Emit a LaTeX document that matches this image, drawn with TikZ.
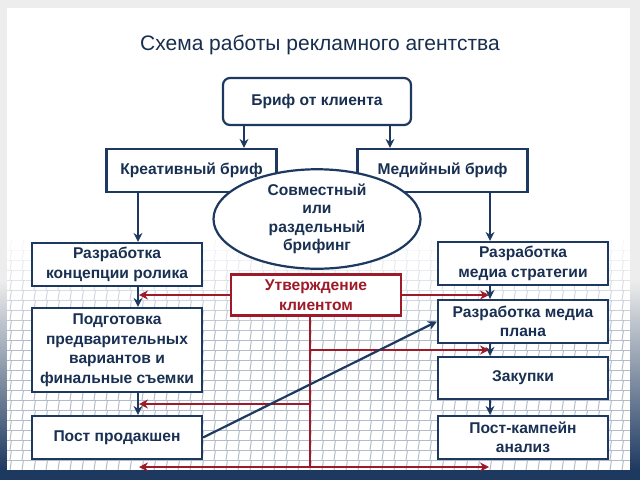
\documentclass[tikz,border=0pt]{standalone}
\usepackage{fontspec}
\setmainfont{Liberation Sans}
\usetikzlibrary{shapes.geometric,arrows.meta,calc}
\definecolor{navy}{RGB}{30,57,96}
\definecolor{darkred}{RGB}{158,26,40}
\definecolor{gridc}{RGB}{180,188,201}
\begin{document}
\begin{tikzpicture}[x=1pt,y=-1pt,
    box/.style={draw=navy,line width=2.2pt,fill=white,minimum width=170pt,minimum height=43pt,
      align=center,inner sep=2pt,text=navy!85!black,font=\bfseries\fontsize{15.6}{19.5}\selectfont},
    redbox/.style={box,draw=darkred,text=darkred,minimum height=41pt},
    arr/.style={navy,line width=2.2pt,-{Stealth[length=9pt,width=9pt]}},
    redarr/.style={darkred,line width=2pt,-{Stealth[length=9pt,width=9pt]}},
    redline/.style={darkred,line width=2pt}]

    % slide background
    \fill[gray!14] (0,0) rectangle (640,480);
    \shade[top color=gray!14,bottom color=navy] (0,280) rectangle (7,470);
    \shade[top color=gray!14,bottom color=navy] (630,280) rectangle (640,470);
    \fill[white] (7,8) rectangle (630,470);
    \foreach \y in {250,260,...,470}{
      \pgfmathtruncatemacro\pct{min(100,\y-240)}
      \draw[gridc!\pct!white,line width=1pt] (7,\y) -- (630,\y);
      \foreach \x in {10,22,...,628}
        \draw[gridc!\pct!white,line width=1pt] (\x,\y) -- (\x+1.5,\y-10);
    }
    \fill[navy] (0,470) rectangle (640,480);

    % title
    \node[text=navy!80!black,font=\fontsize{21}{24}\selectfont] (title) at (320,45) {Схема работы рекламного агентства};

    % nodes
    \node[box,rounded corners=7pt,minimum width=188pt,minimum height=47pt] (brief) at (317,101.5) {Бриф от клиента};
    \node[box] (creative) at (191.5,170.5) {Креативный бриф};
    \node[box] (media) at (442.5,170.5) {Медийный бриф};
    \node[box,ellipse,minimum width=207pt,minimum height=81pt,inner sep=0pt,
      font=\bfseries\fontsize{15.6}{18.5}\selectfont] (joint) at (317,219) {Совместный\\или\\раздельный\\брифинг};
    \node[box] (concept) at (117,264.5) {Разработка\\концепции ролика};
    \node[box] (strategy) at (523,263.5) {Разработка\\медиа стратегии};
    \node[redbox] (approve) at (316,295) {Утверждение\\клиентом};
    \node[box,minimum height=84pt] (prep) at (117,350) {Подготовка\\предварительных\\вариантов и\\финальные съемки};
    \node[box] (plan) at (523,321.5) {Разработка медиа\\плана};
    \node[box,minimum height=42pt] (purchase) at (523,378) {Закупки};
    \node[box] (post) at (117,437.5) {Пост продакшен};
    \node[box] (analysis) at (523,437.5) {Пост-кампейн\\анализ};

    \coordinate (b1) at (244,0);
    \coordinate (b2) at (390,0);
    \coordinate (lx) at (138,0);
    \coordinate (rx) at (490,0);
    \coordinate (vx) at (310,0);
    \coordinate (m1) at ($(plan.south)!.5!(purchase.north)$);
    \coordinate (m2) at ($(prep.south)!.5!(post.north)$);
    \coordinate (m3) at (0,467);

    % blue arrows
    \draw[arr] (brief.south -| b1) -- (creative.north -| b1);
    \draw[arr] (brief.south -| b2) -- (media.north -| b2);
    \draw[arr] (creative.south -| lx) -- (concept.north -| lx);
    \draw[arr] (media.south -| rx) -- (strategy.north -| rx);
    \draw[arr] (concept.south -| lx) -- (prep.north -| lx);
    \draw[arr] (prep.south -| lx) -- (post.north -| lx);
    \draw[arr] (strategy.south -| rx) -- (plan.north -| rx);
    \draw[arr] (plan.south -| rx) -- (purchase.north -| rx);
    \draw[arr] (purchase.south -| rx) -- (analysis.north -| rx);

    % red approval lines
    \draw[redarr,shorten >=1pt] (approve.west) -- (approve.west -| lx);
    \draw[redarr,shorten >=1pt] (approve.east) -- (approve.east -| rx);
    \draw[redline] (approve.south -| vx) -- (m3 -| vx);
    \draw[redarr,shorten >=1pt] (m1 -| vx) -- (m1 -| rx);
    \draw[redarr,shorten >=1pt] (m2 -| vx) -- (m2 -| lx);
    \draw[redarr,shorten >=1pt] (m3 -| vx) -- (m3 -| lx);
    \draw[redarr,shorten >=1pt] (m3 -| vx) -- (m3 -| rx);

    \draw[arr] (post.east) -- (plan.west);
\end{tikzpicture}
\end{document}
